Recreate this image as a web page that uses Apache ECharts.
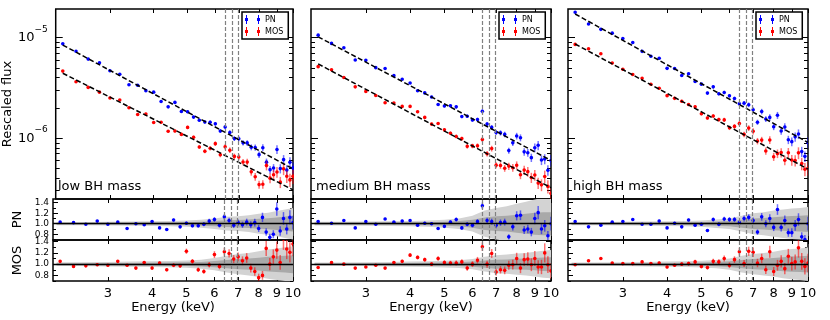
<!DOCTYPE html>
<html>
<head>
<meta charset="utf-8">
<script src="https://cdn.jsdelivr.net/npm/echarts@6/dist/echarts.min.js"></script>
<style>
  html, body { margin: 0; padding: 0; background: #fff; }
  #chart { width: 830px; height: 320px; }
</style>
</head>
<body>
<div id="chart"></div>
<script>
// energy bins (keV)
const energy = [2.2, 2.4, 2.6, 2.8, 3.0, 3.2, 3.4, 3.6, 3.8, 4.0, 4.2, 4.4, 4.6, 4.8, 5.0, 5.2, 5.4, 5.6, 5.8, 6.0,
  6.2, 6.4, 6.6, 6.8, 7.0, 7.2, 7.4, 7.6, 7.8, 8.0, 8.2, 8.4, 8.6, 8.8, 9.0, 9.2, 9.4, 9.6, 9.8, 10.0];

const xTicks = [3, 4, 5, 6, 7, 8, 9, 10];
const fluxMajor = [1e-6, 1e-5];
const fluxMinor = [3e-7, 4e-7, 5e-7, 6e-7, 7e-7, 8e-7, 9e-7, 2e-6, 3e-6, 4e-6, 5e-6, 6e-6, 7e-6, 8e-6, 9e-6];
const ratioMajor = [0.8, 1.0, 1.2, 1.4];
const ratioMinor = [0.7, 0.9, 1.1, 1.3];
const feLines = [6.4, 6.7, 6.97];
const panelNames = ['low BH mass', 'medium BH mass', 'high BH mass'];

// rescaled flux
const lowPnFlux = [8.71e-6, 7.33e-6, 6.12e-6, 5.64e-6, 4.69e-6, 4.32e-6, 3.40e-6, 3.36e-6, 2.97e-6, 2.87e-6, 2.32e-6, 2.05e-6, 2.27e-6, 1.84e-6, 1.83e-6, 1.62e-6, 1.51e-6, 1.45e-6, 1.44e-6, 1.39e-6,
  1.18e-6, 1.29e-6, 1.14e-6, 9.90e-7, 9.87e-7, 8.98e-7, 8.97e-7, 8.12e-7, 8.06e-7, 6.85e-7, 8.04e-7, 5.77e-7, 4.86e-7, 5.04e-7, 7.72e-7, 4.98e-7, 6.11e-7, 4.81e-7, 5.76e-7, 5.06e-7];
const lowMosFlux = [4.65e-6, 3.64e-6, 3.20e-6, 2.87e-6, 2.51e-6, 2.40e-6, 2.01e-6, 1.72e-6, 1.74e-6, 1.43e-6, 1.44e-6, 1.17e-6, 1.18e-6, 1.09e-6, 1.28e-6, 1.02e-6, 8.17e-7, 7.42e-7, 7.93e-7, 8.82e-7,
  6.83e-7, 8.20e-7, 7.59e-7, 6.58e-7, 6.49e-7, 5.79e-7, 5.78e-7, 4.62e-7, 4.13e-7, 3.45e-7, 3.48e-7, 5.33e-7, 4.00e-7, 4.33e-7, 4.61e-7, 3.65e-7, 4.95e-7, 4.18e-7, 3.84e-7, 4.17e-7];
const medPnFlux = [1.06e-5, 8.77e-6, 7.93e-6, 5.99e-6, 5.95e-6, 5.03e-6, 4.93e-6, 4.19e-6, 3.86e-6, 3.54e-6, 2.96e-6, 2.82e-6, 2.57e-6, 2.16e-6, 2.09e-6, 2.10e-6, 2.05e-6, 1.64e-6, 1.65e-6, 1.52e-6,
  1.53e-6, 1.85e-6, 1.38e-6, 1.28e-6, 1.14e-6, 1.13e-6, 1.09e-6, 7.52e-7, 8.98e-7, 1.05e-6, 1.01e-6, 7.31e-7, 7.16e-7, 6.40e-7, 8.03e-7, 8.49e-7, 6.06e-7, 6.21e-7, 4.79e-7, 6.00e-7];
const medMosFlux = [5.15e-6, 4.80e-6, 4.01e-6, 3.24e-6, 2.92e-6, 2.66e-6, 2.25e-6, 2.24e-6, 2.07e-6, 2.07e-6, 1.83e-6, 1.61e-6, 1.38e-6, 1.40e-6, 1.21e-6, 1.12e-6, 1.04e-6, 9.90e-7, 8.29e-7, 8.37e-7,
  8.41e-7, 9.71e-7, 7.00e-7, 7.88e-7, 5.39e-7, 5.35e-7, 5.02e-7, 5.27e-7, 5.07e-7, 5.37e-7, 4.33e-7, 4.81e-7, 4.64e-7, 4.05e-7, 4.30e-7, 3.57e-7, 3.43e-7, 4.16e-7, 3.31e-7, 2.82e-7];
const highPnFlux = [1.79e-5, 1.37e-5, 1.21e-5, 1.11e-5, 9.80e-6, 8.97e-6, 7.31e-6, 6.54e-6, 6.24e-6, 4.95e-6, 4.94e-6, 4.20e-6, 4.38e-6, 3.67e-6, 3.45e-6, 2.81e-6, 3.24e-6, 2.77e-6, 2.85e-6, 2.64e-6,
  2.48e-6, 2.20e-6, 2.23e-6, 2.15e-6, 1.92e-6, 1.44e-6, 1.84e-6, 1.55e-6, 1.61e-6, 1.30e-6, 1.69e-6, 1.18e-6, 1.29e-6, 9.64e-7, 9.23e-7, 1.03e-6, 1.10e-6, 7.35e-7, 6.59e-7, 9.06e-7];
const highMosFlux = [8.57e-6, 7.77e-6, 6.93e-6, 5.59e-6, 4.85e-6, 4.30e-6, 3.94e-6, 3.44e-6, 3.14e-6, 2.65e-6, 2.49e-6, 2.33e-6, 2.16e-6, 2.05e-6, 1.75e-6, 1.59e-6, 1.66e-6, 1.53e-6, 1.52e-6, 1.27e-6,
  1.31e-6, 1.40e-6, 1.09e-6, 1.26e-6, 1.17e-6, 9.36e-7, 9.56e-7, 7.44e-7, 9.60e-7, 6.54e-7, 7.02e-7, 7.18e-7, 6.03e-7, 7.15e-7, 6.06e-7, 5.99e-7, 7.14e-7, 5.58e-7, 4.91e-7, 5.02e-7];

// data / model
const lowPnRatio = [1.03, 1.02, 0.99, 1.05, 0.99, 1.03, 0.91, 1.00, 0.98, 1.04, 0.92, 0.89, 1.07, 0.94, 1.01, 0.96, 0.96, 0.99, 1.05, 1.08,
  0.97, 1.13, 1.06, 0.97, 1.02, 0.98, 1.03, 0.98, 1.02, 0.91, 1.12, 0.84, 0.74, 0.80, 1.28, 0.86, 1.10, 0.90, 1.12, 1.02];
const lowMosRatio = [1.05, 0.96, 0.97, 0.99, 0.98, 1.05, 0.98, 0.93, 1.03, 0.93, 1.02, 0.90, 0.98, 0.97, 1.23, 1.05, 0.90, 0.87, 0.99, 1.17,
  0.96, 1.22, 1.19, 1.09, 1.13, 1.06, 1.11, 0.93, 0.87, 0.76, 0.80, 1.28, 1.00, 1.13, 1.25, 1.03, 1.45, 1.27, 1.21, 1.36];
const medPnRatio = [1.04, 1.01, 1.06, 0.92, 1.04, 0.99, 1.09, 1.03, 1.05, 1.06, 0.97, 1.01, 1.00, 0.91, 0.95, 1.03, 1.08, 0.92, 0.99, 0.97,
  1.04, 1.34, 1.06, 1.04, 0.97, 1.02, 1.03, 0.75, 0.94, 1.15, 1.16, 0.88, 0.90, 0.84, 1.10, 1.21, 0.90, 0.96, 0.77, 1.00];
const medMosRatio = [0.94, 1.03, 1.00, 0.93, 0.95, 0.98, 0.93, 1.03, 1.05, 1.16, 1.12, 1.08, 1.00, 1.10, 1.03, 1.02, 1.02, 1.04, 0.93, 1.00,
  1.07, 1.31, 1.00, 1.19, 0.86, 0.90, 0.89, 0.98, 0.99, 1.10, 0.93, 1.08, 1.09, 0.99, 1.10, 0.95, 0.95, 1.20, 0.99, 0.88];
const highPnRatio = [1.04, 0.94, 0.97, 1.03, 1.04, 1.08, 0.99, 0.99, 1.05, 0.92, 1.01, 0.94, 1.07, 0.97, 0.99, 0.87, 1.08, 0.99, 1.09, 1.08,
  1.08, 1.02, 1.10, 1.12, 1.06, 0.84, 1.13, 1.00, 1.10, 0.93, 1.27, 0.93, 1.06, 0.83, 0.83, 0.97, 1.08, 0.75, 0.70, 1.00];
const highMosRatio = [0.99, 1.06, 1.10, 1.02, 1.01, 1.01, 1.04, 1.01, 1.02, 0.95, 0.98, 1.00, 1.01, 1.04, 0.96, 0.94, 1.05, 1.04, 1.10, 0.98,
  1.08, 1.22, 1.01, 1.23, 1.21, 1.02, 1.10, 0.90, 1.22, 0.87, 0.98, 1.05, 0.92, 1.14, 1.01, 1.04, 1.29, 1.05, 0.96, 1.02];

// relative 1-sigma errors
const pnErr = [0.015, 0.016, 0.016, 0.017, 0.018, 0.019, 0.020, 0.021, 0.022, 0.024, 0.025, 0.027, 0.028, 0.030, 0.032, 0.034, 0.036, 0.038, 0.040, 0.043,
  0.045, 0.048, 0.051, 0.054, 0.057, 0.060, 0.064, 0.068, 0.072, 0.076, 0.080, 0.085, 0.090, 0.095, 0.100, 0.105, 0.110, 0.115, 0.120, 0.130];
const mosErr = [0.018, 0.018, 0.019, 0.020, 0.021, 0.022, 0.023, 0.025, 0.026, 0.028, 0.030, 0.032, 0.034, 0.036, 0.038, 0.040, 0.043, 0.046, 0.049, 0.052,
  0.055, 0.058, 0.062, 0.066, 0.070, 0.074, 0.078, 0.083, 0.088, 0.093, 0.098, 0.104, 0.110, 0.116, 0.122, 0.128, 0.135, 0.142, 0.150, 0.160];

// best-fit model line ends at 2.2 and 10 keV
const modelE = [2.2, 10];
const lowPnModel = [8.45e-6, 4.95e-7];
const lowMosModel = [4.43e-6, 3.06e-7];
const medPnModel = [1.02e-5, 6.0e-7];
const medMosModel = [5.48e-6, 3.21e-7];
const highPnModel = [1.72e-5, 9.06e-7];
const highMosModel = [8.65e-6, 4.92e-7];

// model uncertainty bands (half widths around 1)
const bandE = [2.15, 2.5, 3, 3.5, 4, 4.5, 5, 5.5, 6, 6.5, 7, 7.5, 8, 8.5, 9, 9.5, 10];
const lowPnOuter = [0.03, 0.03, 0.035, 0.04, 0.045, 0.05, 0.06, 0.075, 0.1, 0.13, 0.14, 0.16, 0.19, 0.21, 0.24, 0.27, 0.3];
const lowPnInner = [0.015, 0.015, 0.017, 0.02, 0.022, 0.025, 0.03, 0.037, 0.05, 0.065, 0.07, 0.08, 0.095, 0.105, 0.12, 0.135, 0.15];
const lowMosOuter = [0.035, 0.035, 0.04, 0.045, 0.05, 0.055, 0.065, 0.08, 0.11, 0.15, 0.18, 0.2, 0.23, 0.26, 0.28, 0.3, 0.32];
const lowMosInner = [0.017, 0.017, 0.02, 0.022, 0.025, 0.028, 0.032, 0.04, 0.055, 0.075, 0.09, 0.1, 0.115, 0.13, 0.14, 0.15, 0.16];
const medPnOuter = [0.035, 0.035, 0.04, 0.045, 0.05, 0.06, 0.075, 0.1, 0.15, 0.25, 0.3, 0.33, 0.38, 0.42, 0.46, 0.5, 0.5];
const medPnInner = [0.018, 0.018, 0.02, 0.022, 0.025, 0.03, 0.037, 0.05, 0.075, 0.12, 0.14, 0.15, 0.17, 0.19, 0.21, 0.22, 0.22];
const medMosOuter = [0.03, 0.03, 0.035, 0.04, 0.045, 0.05, 0.06, 0.07, 0.09, 0.13, 0.16, 0.17, 0.19, 0.2, 0.22, 0.24, 0.25];
const medMosInner = [0.015, 0.015, 0.017, 0.02, 0.022, 0.025, 0.03, 0.035, 0.045, 0.065, 0.08, 0.085, 0.095, 0.1, 0.11, 0.12, 0.125];
const highPnOuter = [0.03, 0.03, 0.035, 0.04, 0.045, 0.05, 0.06, 0.08, 0.1, 0.15, 0.2, 0.22, 0.25, 0.27, 0.29, 0.3, 0.32];
const highPnInner = [0.015, 0.015, 0.017, 0.02, 0.022, 0.025, 0.03, 0.04, 0.05, 0.075, 0.1, 0.11, 0.125, 0.135, 0.145, 0.15, 0.16];
const highMosOuter = [0.03, 0.03, 0.035, 0.04, 0.045, 0.05, 0.06, 0.075, 0.1, 0.15, 0.18, 0.2, 0.22, 0.25, 0.27, 0.28, 0.3];
const highMosInner = [0.015, 0.015, 0.017, 0.02, 0.022, 0.025, 0.03, 0.037, 0.05, 0.075, 0.09, 0.1, 0.11, 0.125, 0.135, 0.14, 0.15];

const panels = [
  { left: 53, legendLeft: 242, pnFlux: lowPnFlux, mosFlux: lowMosFlux, pnRatio: lowPnRatio, mosRatio: lowMosRatio,
    pnModel: lowPnModel, mosModel: lowMosModel, pnBand: [lowPnOuter, lowPnInner], mosBand: [lowMosOuter, lowMosInner] },
  { left: 311, legendLeft: 499, pnFlux: medPnFlux, mosFlux: medMosFlux, pnRatio: medPnRatio, mosRatio: medMosRatio,
    pnModel: medPnModel, mosModel: medMosModel, pnBand: [medPnOuter, medPnInner], mosBand: [medMosOuter, medMosInner] },
  { left: 568, legendLeft: 756, pnFlux: highPnFlux, mosFlux: highMosFlux, pnRatio: highPnRatio, mosRatio: highMosRatio,
    pnModel: highPnModel, mosModel: highMosModel, pnBand: [highPnOuter, highPnInner], mosBand: [highMosOuter, highMosInner] }
];

const FONT = 'DejaVu Sans';
const BLUE = '#0000ff';
const RED = '#ff0000';
const legendIcon = 'path://M1,0h1v9h-1z M0,3h3v3h-3z M13,0h1v9h-1z M12,3h3v3h-3z';

const chart = echarts.init(document.getElementById('chart'));

const grids = [], xAxes = [], yAxes = [], series = [], legends = [], titles = [];

// error bar + dot, drawn through the axes
function renderErr(params, api) {
  const x = api.value(0), y = api.value(1), e = api.value(2);
  const p = api.coord([x, y]);
  const lo = api.coord([x, y * (1 - e)]);
  const hi = api.coord([x, y * (1 + e)]);
  const c = api.visual('color');
  return {
    type: 'group',
    children: [
      { type: 'line', shape: { x1: p[0], y1: lo[1], x2: p[0], y2: hi[1] }, style: { stroke: c, lineWidth: 1.5, opacity: 0.55 } },
      { type: 'circle', shape: { cx: p[0], cy: p[1], r: 1.8 }, style: { fill: c } }
    ]
  };
}

function bandRenderer(outer, inner) {
  return function (params, api) {
    const poly = w => {
      const up = bandE.map((e, i) => api.coord([e, 1 + w[i]]));
      const dn = bandE.map((e, i) => api.coord([e, 1 - w[i]])).reverse();
      return up.concat(dn);
    };
    return {
      type: 'group',
      children: [
        { type: 'polygon', shape: { points: poly(outer) }, style: { fill: '#d3d3d3' } },
        { type: 'polygon', shape: { points: poly(inner) }, style: { fill: '#a9a9a9' } }
      ]
    };
  };
}

function addXAxes(gi, withLabels) {
  ['bottom', 'top'].forEach(pos => {
    const lab = withLabels && pos === 'bottom';
    xAxes.push({
      gridIndex: gi, type: 'log', min: 2.1, max: 10, position: pos,
      axisLine: { show: false, onZero: false },
      splitLine: { show: false },
      axisTick: { show: true, inside: true, length: 4, customValues: xTicks, lineStyle: { color: '#000', width: 1 } },
      axisLabel: { show: lab, customValues: xTicks, margin: 6, fontSize: 13, fontFamily: FONT, color: '#000',
        formatter: v => String(Math.round(v)) },
      name: lab ? 'Energy (keV)' : '',
      nameLocation: 'middle', nameGap: 20,
      nameTextStyle: { fontSize: 13, fontFamily: FONT, color: '#000' }
    });
  });
}

function addYAxes(gi, cfg) {
  ['left', 'right'].forEach(pos => {
    [[cfg.major, cfg.majorLen], [cfg.minor, cfg.minorLen]].forEach(([vals, len], k) => {
      const lab = cfg.labels && pos === 'left' && k === 0;
      yAxes.push({
        gridIndex: gi, type: cfg.type, min: cfg.min, max: cfg.max, position: pos,
        axisLine: { show: false, onZero: false },
        splitLine: { show: false },
        axisTick: { show: true, inside: true, length: len, customValues: vals, lineStyle: { color: '#000', width: 1 } },
        axisLabel: { show: lab, customValues: cfg.major, margin: cfg.margin, color: '#000', fontFamily: FONT,
          fontSize: cfg.fontSize, formatter: cfg.formatter, rich: cfg.rich },
        name: lab ? cfg.name : '',
        nameLocation: 'middle', nameGap: cfg.nameGap,
        nameTextStyle: { fontSize: 13, fontFamily: FONT, color: '#000' }
      });
    });
  });
}

const feMark = {
  silent: true, symbol: 'none', animation: false,
  label: { show: false },
  lineStyle: { color: '#808080', type: [4, 2], width: 1.2 },
  data: feLines.map(e => ({ xAxis: e }))
};

function ratioMark() {
  return {
    silent: true, symbol: 'none', animation: false,
    label: { show: false },
    lineStyle: { color: '#808080', type: [4, 2], width: 1.2 },
    data: [{ yAxis: 1, lineStyle: { color: '#000', type: 'solid', width: 1.3 } }].concat(feLines.map(e => ({ xAxis: e })))
  };
}

panels.forEach((p, pi) => {
  const first = pi === 0;
  const rows = [
    { top: 9, height: 190 },
    { top: 199, height: 41 },
    { top: 240, height: 41 }
  ];
  rows.forEach((r, k) => {
    const gi = pi * 3 + k;
    grids.push({ left: p.left, top: r.top, width: 240, height: r.height, show: true,
      borderColor: '#000', borderWidth: 1.5, backgroundColor: 'transparent' });
    addXAxes(gi, k === 2);
    if (k === 0) {
      addYAxes(gi, {
        type: 'log', min: 2.48e-7, max: 1.93e-5, major: fluxMajor, minor: fluxMinor, majorLen: 7, minorLen: 4,
        labels: first, margin: 8, fontSize: 13, name: 'Rescaled flux', nameGap: 34,
        formatter: v => '{b|10}{s|\u2212' + Math.abs(Math.round(Math.log10(v))) + '}',
        rich: { b: { fontSize: 13, fontFamily: FONT, lineHeight: 26 }, s: { fontSize: 9, fontFamily: FONT, verticalAlign: 'top', lineHeight: 11 } }
      });
    } else {
      addYAxes(gi, {
        type: 'value', min: k === 1 ? 0.69 : 0.7, max: k === 1 ? 1.47 : 1.43, major: ratioMajor, minor: ratioMinor,
        majorLen: 5, minorLen: 3, labels: first, margin: 4, fontSize: 9,
        name: k === 1 ? 'PN' : 'MOS', nameGap: 29,
        formatter: v => v.toFixed(1)
      });
    }
    const xi = gi * 2, yi = gi * 4;
    if (k === 0) {
      series.push({
        type: 'line', xAxisIndex: xi, yAxisIndex: yi, silent: true, z: 4, symbol: 'none',
        lineStyle: { color: '#000', type: [5, 2.5], width: 1.5 },
        data: modelE.map((e, i) => [e, p.pnModel[i]]),
        markLine: feMark
      });
      series.push({
        type: 'line', xAxisIndex: xi, yAxisIndex: yi, silent: true, z: 4, symbol: 'none',
        lineStyle: { color: '#000', type: [5, 2.5], width: 1.5 },
        data: modelE.map((e, i) => [e, p.mosModel[i]])
      });
      series.push({
        type: 'custom', name: 'PN', xAxisIndex: xi, yAxisIndex: yi, clip: true, z: 3,
        itemStyle: { color: BLUE }, renderItem: renderErr, encode: { x: 0, y: 1 },
        data: energy.map((e, i) => [e, p.pnFlux[i], pnErr[i]])
      });
      series.push({
        type: 'custom', name: 'MOS', xAxisIndex: xi, yAxisIndex: yi, clip: true, z: 3,
        itemStyle: { color: RED }, renderItem: renderErr, encode: { x: 0, y: 1 },
        data: energy.map((e, i) => [e, p.mosFlux[i], mosErr[i]])
      });
    } else {
      const isPn = k === 1;
      const band = isPn ? p.pnBand : p.mosBand;
      series.push({
        type: 'custom', name: isPn ? 'PN band' : 'MOS band', xAxisIndex: xi, yAxisIndex: yi, clip: true, z: 1, silent: true,
        renderItem: bandRenderer(band[0], band[1]), encode: { x: 0, y: 1 },
        data: [[bandE[0], 1]]
      });
      series.push({
        type: 'custom', name: isPn ? 'PN ratio' : 'MOS ratio', xAxisIndex: xi, yAxisIndex: yi, clip: true, z: 3,
        itemStyle: { color: isPn ? BLUE : RED }, renderItem: renderErr, encode: { x: 0, y: 1 },
        data: energy.map((e, i) => [e, isPn ? p.pnRatio[i] : p.mosRatio[i], isPn ? pnErr[i] : mosErr[i]]),
        markLine: ratioMark()
      });
    }
  });

  legends.push({
    left: p.legendLeft, top: 12, orient: 'vertical', selectedMode: false,
    data: [{ name: 'PN', icon: legendIcon }, { name: 'MOS', icon: legendIcon }],
    itemWidth: 15, itemHeight: 9, itemGap: 3, padding: [3, 5, 3, 3],
    borderColor: '#000', borderWidth: 1.5, backgroundColor: '#fff',
    textStyle: { fontSize: 8, fontFamily: FONT, color: '#000' }
  });

  titles.push({
    text: panelNames[pi], left: p.left + 5, top: 180, padding: 0,
    textStyle: { fontSize: 13, fontWeight: 'normal', fontFamily: FONT, color: '#000' }
  });
});

chart.setOption({
  animation: false,
  backgroundColor: '#fff',
  title: titles,
  legend: legends,
  grid: grids,
  xAxis: xAxes,
  yAxis: yAxes,
  series: series
});
</script>
</body>
</html>
